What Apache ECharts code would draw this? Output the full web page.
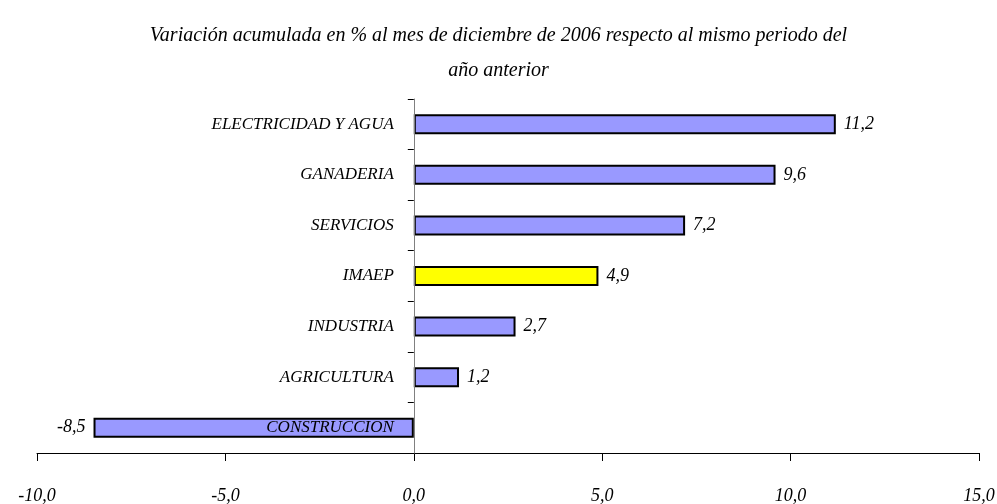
<!DOCTYPE html>
<html>
<head>
<meta charset="utf-8">
<script src="https://cdn.jsdelivr.net/npm/echarts@6/dist/echarts.min.js"></script>
<style>
  html, body { margin: 0; padding: 0; background: #fff; }
  #chart { width: 997px; height: 504px; }
</style>
</head>
<body>
<div id="chart"></div>
<script>
// Sectors, listed top to bottom
var categories = ['ELECTRICIDAD Y AGUA', 'GANADERIA', 'SERVICIOS', 'IMAEP', 'INDUSTRIA', 'AGRICULTURA', 'CONSTRUCCION'];
// Accumulated variation (%)
var values = [11.2, 9.6, 7.2, 4.9, 2.7, 1.2, -8.5];
// Axis range and step
var axisMin = -10, axisMax = 15, axisStep = 5;
var highlighted = 'IMAEP';

var serif = '"Liberation Serif", "DejaVu Serif", serif';
function fmt(v) { return Number(v).toFixed(1).replace('.', ','); }

var gridLeft = 37, gridRight = 18, width = 997;
// Shift the category axis so it sits on the zero line of the value axis
var plotWidth = width - gridLeft - gridRight;
var zeroShift = plotWidth * (0 - axisMin) / (axisMax - axisMin);

var seriesData = values.map(function (v, i) {
  return {
    value: v,
    itemStyle: { color: categories[i] === highlighted ? '#ffff00' : '#9999ff' },
    label: { position: v < 0 ? 'left' : 'right' }
  };
});

var chart = echarts.init(document.getElementById('chart'));
chart.setOption({
  animation: false,
  backgroundColor: '#ffffff',
  title: {
    text: 'Variación acumulada en % al mes de diciembre de 2006 respecto al mismo periodo del\naño anterior',
    left: 'center',
    top: 13,
    textStyle: {
      fontFamily: serif, fontStyle: 'italic', fontWeight: 'normal',
      fontSize: 20, color: '#000', lineHeight: 35
    }
  },
  grid: {
    left: gridLeft, right: gridRight, top: 99, bottom: 51,
    containLabel: false, outerBoundsMode: 'none'
  },
  xAxis: {
    type: 'value',
    min: axisMin, max: axisMax, interval: axisStep,
    splitLine: { show: false },
    axisLine: { show: true, onZero: false, lineStyle: { color: '#000', width: 1 } },
    axisTick: { show: true, length: 8, lineStyle: { color: '#000' } },
    axisLabel: {
      formatter: fmt, margin: 34,
      fontFamily: serif, fontStyle: 'italic', fontSize: 18, color: '#000'
    }
  },
  yAxis: {
    type: 'category',
    data: categories,
    inverse: true,
    offset: -zeroShift,
    z: 5,
    axisLine: { show: true, onZero: false, lineStyle: { color: '#808080', width: 1 } },
    axisTick: { show: true, length: 6, lineStyle: { color: '#000' } },
    axisLabel: {
      margin: 20,
      fontFamily: serif, fontStyle: 'italic', fontSize: 17, color: '#000'
    }
  },
  series: [{
    type: 'bar',
    data: seriesData,
    barWidth: 20,
    itemStyle: { borderColor: '#000', borderWidth: 2 },
    label: {
      show: true, distance: 8,
      formatter: function (p) { return fmt(p.value); },
      fontFamily: serif, fontStyle: 'italic', fontSize: 18, color: '#000'
    }
  }]
});
</script>
</body>
</html>
